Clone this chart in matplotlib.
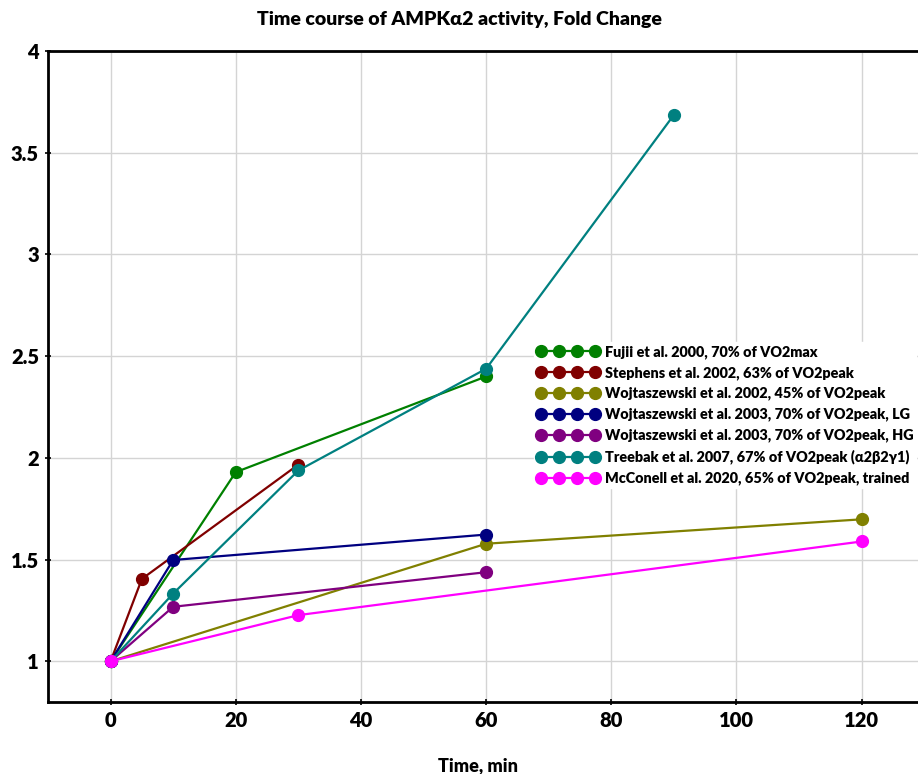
import matplotlib
matplotlib.use("Agg")
import matplotlib.pyplot as plt

plt.rcParams['font.family'] = ['Lato', 'DejaVu Sans']
plt.rcParams['font.weight'] = 'bold'

# series data (time in min, fold change)
fujii_t = [0, 20, 60]
fujii_v = [1.0, 1.93, 2.40]
stephens_t = [0, 5, 30]
stephens_v = [1.0, 1.405, 1.967]
wojt02_t = [0, 60, 120]
wojt02_v = [1.0, 1.578, 1.698]
wojt03lg_t = [0, 10, 60]
wojt03lg_v = [1.0, 1.498, 1.623]
wojt03hg_t = [0, 10, 60]
wojt03hg_v = [1.0, 1.268, 1.438]
treebak_t = [0, 10, 30, 60, 90]
treebak_v = [1.0, 1.333, 1.938, 2.438, 3.686]
mcconell_t = [0, 30, 120]
mcconell_v = [1.0, 1.227, 1.589]

series = [
    (fujii_t, fujii_v, '#008000', 'Fujii et al. 2000, 70% of VO2max'),
    (stephens_t, stephens_v, '#800000', 'Stephens et al. 2002, 63% of VO2peak'),
    (wojt02_t, wojt02_v, '#808000', 'Wojtaszewski et al. 2002, 45% of VO2peak'),
    (wojt03lg_t, wojt03lg_v, '#000080', 'Wojtaszewski et al. 2003, 70% of VO2peak, LG'),
    (wojt03hg_t, wojt03hg_v, '#800080', 'Wojtaszewski et al. 2003, 70% of VO2peak, HG'),
    (treebak_t, treebak_v, '#008080', 'Treebak et al. 2007, 67% of VO2peak (\u03b12\u03b22\u03b31)'),
    (mcconell_t, mcconell_v, '#ff00ff', 'McConell et al. 2020, 65% of VO2peak, trained'),
]

xticks = [0, 20, 40, 60, 80, 100, 120]
yticks = [1, 1.5, 2, 2.5, 3, 3.5, 4]

fig = plt.figure(figsize=(9.18, 7.74), dpi=100)
ax = fig.add_axes([48 / 918, 1 - 702 / 774, 1 - 48 / 918, (702 - 51) / 774])

for t, v, c, lab in series:
    ax.plot(t, v, color=c, marker='o', markersize=8.5, linewidth=1.6, label=lab)

ax.set_xlim(-10, 129)
ax.set_ylim(0.8, 4)
ax.set_xticks(xticks)
ax.set_yticks(yticks)
ax.set_yticklabels(['1', '1.5', '2', '2.5', '3', '3.5', '4'])
ax.grid(True, color='#d4d4d4', linewidth=1)
ax.set_axisbelow(True)

for s in ['left', 'bottom', 'top']:
    ax.spines[s].set_linewidth(2)
ax.spines['right'].set_visible(False)
ax.tick_params(direction='inout', length=5, width=1.2, labelsize=14.5, pad=4)
for lbl in ax.get_xticklabels() + ax.get_yticklabels():
    lbl.set_fontweight('heavy')

# title is centred on the figure, not the axes
ax.set_title('Time course of AMPK\u03b12 activity, Fold Change', fontsize=14,
             fontweight='heavy', pad=19, x=(459 - 48) / 870)
ax.set_xlabel('Time, min', fontsize=13, fontweight='heavy', labelpad=18)
ax.xaxis.set_label_coords((478 - 48) / 870, -0.085)

leg = ax.legend(loc='upper left', bbox_to_anchor=(534 / 918, 1 - 342 / 774),
                bbox_transform=fig.transFigure, numpoints=4, handlelength=4.3,
                handletextpad=0.4, labelspacing=0.5, fontsize=10.4,
                frameon=True, framealpha=1, edgecolor='white', fancybox=False,
                borderpad=0.2, borderaxespad=0)
for txt in leg.get_texts():
    txt.set_fontweight('heavy')

fig.savefig('out.png', dpi=100)
